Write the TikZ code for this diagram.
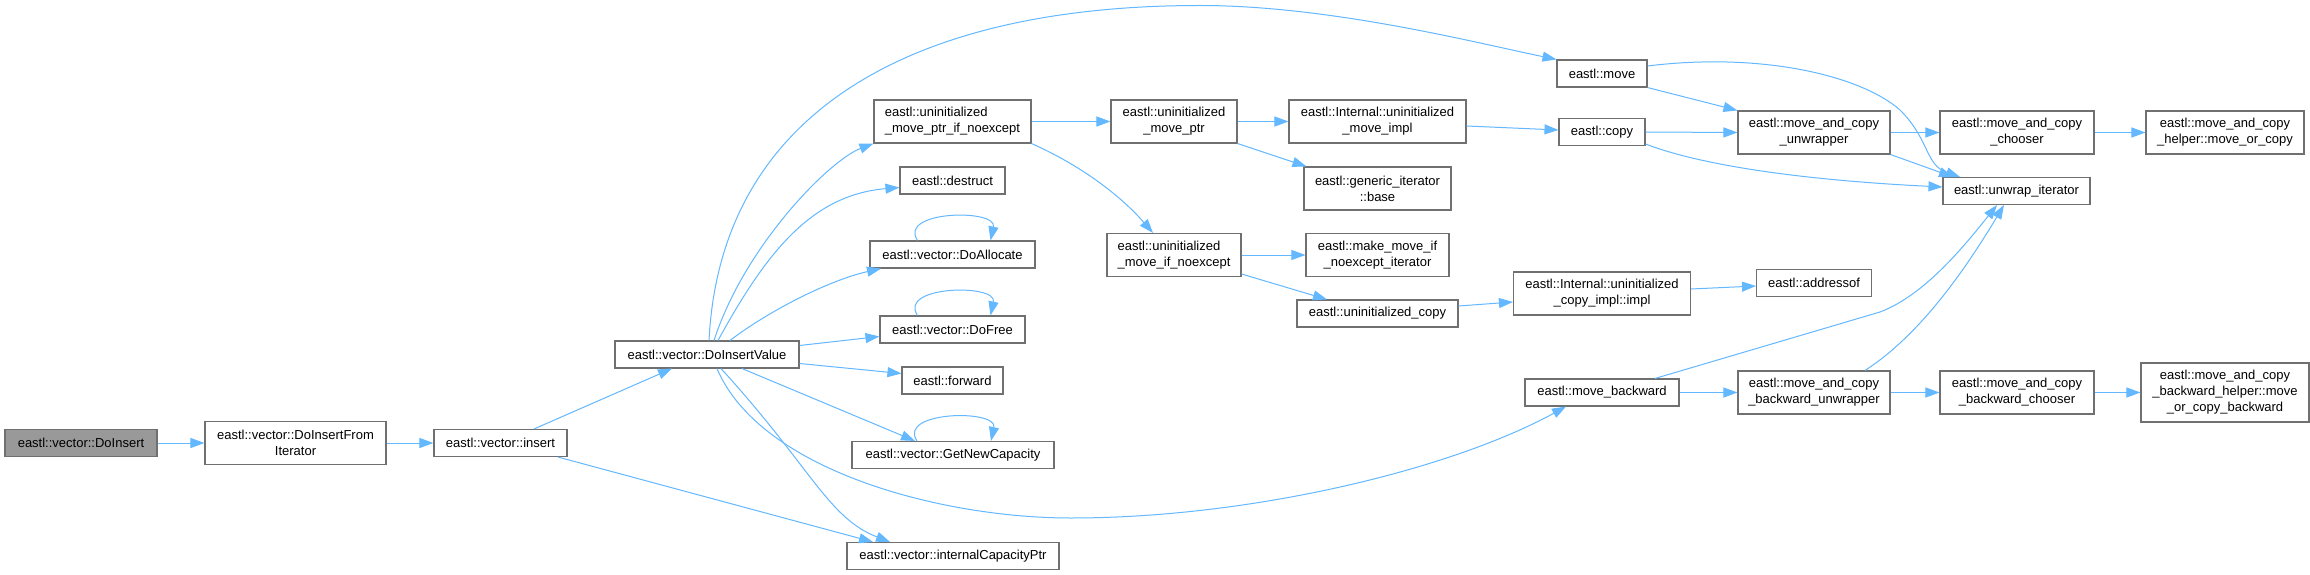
\documentclass[tikz,border=0pt]{standalone}
\usepackage{fontspec}
\setmainfont{Liberation Sans}
\usetikzlibrary{arrows.meta,calc}
\definecolor{edgeblue}{HTML}{63B8FF}
\definecolor{bordergray}{HTML}{707070}
\definecolor{rootgray}{HTML}{999999}
\newcommand\nodefont{\fontsize{13}{16}\selectfont}
\begin{document}
\begin{tikzpicture}[x=1pt,y=-1pt,
  box/.style={draw=bordergray, fill=white, line width=1.1pt, inner sep=0pt, minimum height=27pt, font=\nodefont, align=center},
  two/.style={minimum height=43pt},
  three/.style={minimum height=59pt},
  lbox/.style={align=left},
  rootbox/.style={box, fill=rootgray},
  edge/.style={draw=edgeblue, line width=1pt, -{Triangle[length=14pt,width=10pt]}},
  selfloop/.style={edge}
]
\fill[white] (0,0) rectangle (2310,575);
\useasboundingbox (0,0) rectangle (2310,575);

% nodes
\node[rootbox, minimum width=152pt] (root) at (81,443) {eastl::vector::DoInsert};
\node[box, two, minimum width=181pt] (dif) at (295.5,443) {eastl::vector::DoInsertFrom\\Iterator};
\node[box, minimum width=133pt] (ins) at (500.5,443) {eastl::vector::insert};
\node[box, minimum width=184pt] (div) at (707,354.5) {eastl::vector::DoInsertValue};
\node[box, two, lbox, minimum width=157pt] (umpin) at (952.5,121.5) {eastl::uninitialized\\\_move\_ptr\_if\_noexcept};
\node[box, minimum width=105pt] (destr) at (952.5,180.5) {eastl::destruct};
\node[box, minimum width=165pt] (alloc) at (952.5,254.5) {eastl::vector::DoAllocate};
\node[box, minimum width=145pt] (free) at (952.5,329.5) {eastl::vector::DoFree};
\node[box, minimum width=101pt] (fwd) at (952.5,380.5) {eastl::forward};
\node[box, minimum width=202pt] (gnc) at (953,455) {eastl::vector::GetNewCapacity};
\node[box, minimum width=212pt] (icp) at (953,556) {eastl::vector::internalCapacityPtr};
\node[box, two, minimum width=126pt] (ump) at (1174,121.5) {eastl::uninitialized\\\_move\_ptr};
\node[box, two, lbox, minimum width=134pt] (umin) at (1174,255) {eastl::uninitialized\\\_move\_if\_noexcept};
\node[box, two, minimum width=177pt] (iumi) at (1377.5,121.5) {eastl::Internal::uninitialized\\\_move\_impl};
\node[box, two, minimum width=147pt] (gib) at (1377.5,188.5) {eastl::generic\_iterator\\::base};
\node[box, two, minimum width=143pt] (mmi) at (1377.5,255) {eastl::make\_move\_if\\\_noexcept\_iterator};
\node[box, minimum width=161pt] (uc) at (1377.5,313.5) {eastl::uninitialized\_copy};
\node[box, minimum width=154pt] (mb) at (1602,392.5) {eastl::move\_backward};
\node[box, minimum width=90pt] (mv) at (1602,73.5) {eastl::move};
\node[box, minimum width=86pt] (cp) at (1602,132) {eastl::copy};
\node[box, two, minimum width=177pt] (iuci) at (1602,293.5) {eastl::Internal::uninitialized\\\_copy\_impl::impl};
\node[box, minimum width=115pt] (addr) at (1814,283) {eastl::addressof};
\node[box, two, minimum width=152pt] (mcu) at (1814,132.5) {eastl::move\_and\_copy\\\_unwrapper};
\node[box, two, minimum width=152pt] (mcbu) at (1814,392.5) {eastl::move\_and\_copy\\\_backward\_unwrapper};
\node[box, two, minimum width=154pt] (mcc) at (2017,132.5) {eastl::move\_and\_copy\\\_chooser};
\node[box, two, minimum width=154pt] (mcbc) at (2017,392.5) {eastl::move\_and\_copy\\\_backward\_chooser};
\node[box, minimum width=147pt] (unw) at (2016.5,191) {eastl::unwrap\_iterator};
\node[box, two, minimum width=158pt] (mch) at (2225,132.5) {eastl::move\_and\_copy\\\_helper::move\_or\_copy};
\node[box, three, minimum width=168pt] (mcbh) at (2225,392.5) {eastl::move\_and\_copy\\\_backward\_helper::move\\\_or\_copy\_backward};

% edges
\draw[edge] (root.east) -- (dif.west);
\draw[edge] (dif.east) -- (ins.west);
\draw[edge] ($(ins.north)+(33.5,0)$) -- ($(div.south)+(-35,0)$);
\draw[edge] ($(ins.south)+(57.5,0)$) -- ($(icp.north)+(-80,0)$);
\draw[edge] ($(div.south)+(14,0)$) .. controls (811,467) and (828,518) .. ($(icp.north)+(-63,0)$);
\draw[edge] ($(div.south)+(10,0)$) .. controls (760,470) and (940,518) .. (1071,518) .. controls (1250,518) and (1450,470) .. ($(mb.south)+(-36,0)$);
\draw[edge] ($(div.north)+(2,0)$) .. controls (720,120) and (900,5.5) .. (1200,5.5) .. controls (1330,5.5) and (1477,43) .. (mv.north west);
\draw[edge] ($(div.north)+(7,0)$) .. controls (745,245) and (830,160) .. (umpin.south west);
\draw[edge] ($(div.north)+(11,0)$) .. controls (765,255) and (810,195) .. ($(destr.west)+(0,7)$);
\draw[edge] ($(div.north)+(23,0)$) .. controls (770,310) and (830,280) .. ($(alloc.south)+(-71.5,0)$);
\draw[edge] ($(div.east)+(0,-9)$) -- ($(free.west)+(0,7)$);
\draw[edge] ($(div.east)+(0,9)$) -- ($(fwd.west)+(0,-7)$);
\draw[edge] ($(div.south)+(35,0)$) -- ($(gnc.north)+(-38,0)$);

\draw[selfloop] ($(alloc.north)+(-35,0)$) .. controls +(-20,-30) and +(7,-32) .. ($(alloc.north)+(38,0)$);
\draw[selfloop] ($(free.north)+(-35,0)$) .. controls +(-20,-30) and +(7,-32) .. ($(free.north)+(38,0)$);
\draw[selfloop] ($(gnc.north)+(-36,0)$) .. controls +(-20,-30) and +(7,-32) .. ($(gnc.north)+(38,0)$);

\draw[edge] (umpin.east) -- (ump.west);
\draw[edge] (umpin.south east) .. controls (1080,165) and (1120,195) .. ($(umin.north)+(-21,0)$);
\draw[edge] (ump.east) -- (iumi.west);
\draw[edge] (ump.south east) -- ($(gib.north west)+(3,0)$);
\draw[edge] ($(iumi.east)+(0,4.5)$) -- ($(cp.west)+(0,-2)$);
\draw[edge] (umin.east) -- (mmi.west);
\draw[edge] ($(umin.east)+(0,19)$) -- ($(uc.north)+(-50.5,0)$);
\draw[edge] ($(uc.east)+(0,-7.5)$) -- ($(iuci.west)+(0,8.5)$);
\draw[edge] ($(iuci.east)+(0,-4.5)$) -- ($(addr.west)+(0,3)$);
\draw[edge] (mv.south east) -- (mcu.north west);
\draw[edge] ($(mv.east)+(0,-7.5)$) .. controls (1760,52) and (1860,75) .. (1900,110) .. controls (1930,140) and (1925,165) .. ($(unw.north)+(-56.5,0)$);
\draw[edge] (cp.east) -- (mcu.west);
\draw[edge] ($(cp.east)+(0,12)$) .. controls (1700,165) and (1800,180) .. ($(unw.west)+(0,-4)$);
\draw[edge] (mcu.east) -- (mcc.west);
\draw[edge] (mcu.south east) -- ($(unw.north)+(-63.5,0)$);
\draw[edge] (mcc.east) -- (mch.west);
\draw[edge] ($(mb.north)+(53,0)$) -- (1880,312) .. controls (1925,295) and (1965,245) .. ($(unw.south)+(-19.5,0)$);
\draw[edge] ($(mcbu.north)+(51,0)$) .. controls (1920,335) and (1965,270) .. ($(unw.south)+(-12.5,0)$);
\draw[edge] (mb.east) -- (mcbu.west);
\draw[edge] (mcbu.east) -- (mcbc.west);
\draw[edge] (mcbc.east) -- (mcbh.west);
\end{tikzpicture}
\end{document}
